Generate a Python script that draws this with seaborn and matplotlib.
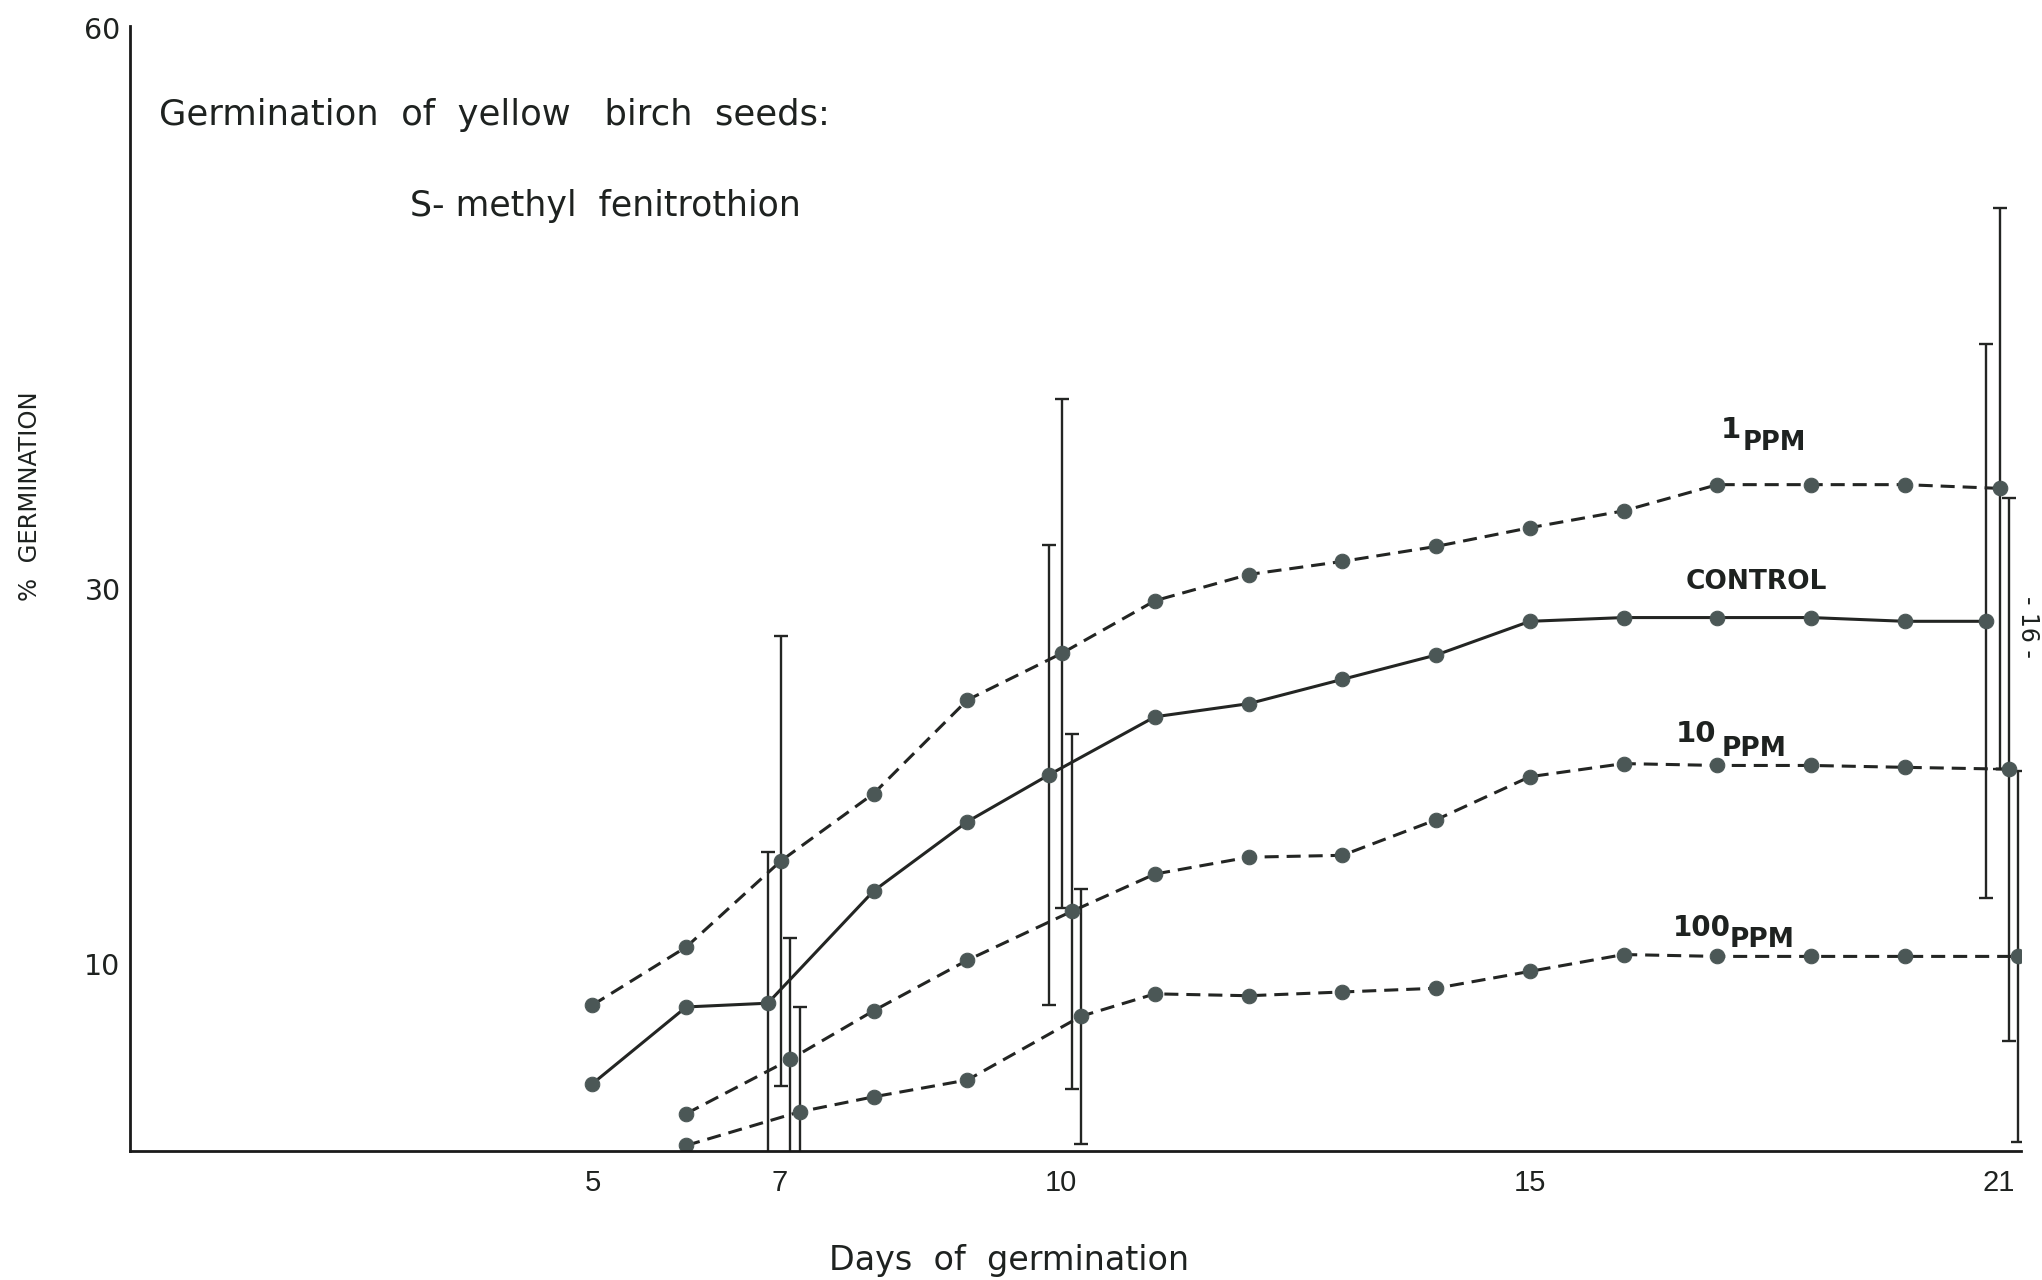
import numpy as np
import pandas as pd
import matplotlib
matplotlib.use("Agg")
import matplotlib.pyplot as plt
import seaborn as sns

# ---------------- data ----------------
days = [5, 6, 7, 8, 9, 10, 11, 12, 13, 14, 15, 16, 17, 18, 19, 20]
days_late = [6, 7, 8, 9, 10, 11, 12, 13, 14, 15, 16, 17, 18, 19, 20]

ppm1 = [7.8, 10.9, 15.5, 19.1, 24.1, 26.6, 29.4, 30.8, 31.5, 32.3, 33.3, 34.2, 35.6, 35.6, 35.6, 35.4]
control = [3.6, 7.7, 7.9, 13.9, 17.6, 20.1, 23.2, 23.9, 25.2, 26.5, 28.3, 28.5, 28.5, 28.5, 28.3, 28.3]
ppm10 = [2.0, 4.9, 7.5, 10.2, 12.8, 14.8, 15.7, 15.8, 17.7, 20.0, 20.7, 20.6, 20.6, 20.5, 20.4]
ppm100 = [0.3, 2.1, 2.9, 3.8, 7.2, 8.4, 8.3, 8.5, 8.7, 9.6, 10.5, 10.4, 10.4, 10.4, 10.4]

err_days = [7, 10, 20]
control_err = [8.1, 12.3, 14.8]
ppm1_err = [12.0, 13.6, 15.0]
ppm10_err = [6.5, 9.5, 14.5]
ppm100_err = [5.6, 6.8, 9.9]

x_ticks = [5, 7, 10, 15, 20]
x_tick_labels = ["5", "7", "10", "15", "21"]
y_ticks = [10, 30, 60]
y_tick_labels = ["10", "30", "60"]

series_names = ["CONTROL", "1 PPM", "10 PPM", "100 PPM"]

# ---------------- styles ----------------
LINE = "#232523"
MARK = "#4b5756"
TXT = "#1e2220"
dodge = {"CONTROL": -0.13, "1 PPM": 0.01, "10 PPM": 0.11, "100 PPM": 0.21}
DASH = (0, (4.6, 2.6))
lstyle = {"CONTROL": "-", "1 PPM": DASH, "10 PPM": DASH, "100 PPM": DASH}

rows = []
for name, xs, ys in [("CONTROL", days, control), ("1 PPM", days, ppm1),
                     ("10 PPM", days_late, ppm10), ("100 PPM", days_late, ppm100)]:
    for d, v in zip(xs, ys):
        rows.append({"series": name, "day": d, "value": v})
df = pd.DataFrame(rows)
df["xpos"] = df["day"] + np.where(df["day"].isin(err_days), df["series"].map(dodge), 0.0)

err_map = {"CONTROL": control_err, "1 PPM": ppm1_err, "10 PPM": ppm10_err, "100 PPM": ppm100_err}

sns.set_theme(style="white")
plt.rcParams["font.family"] = ["DejaVu Sans"]

fig = plt.figure(figsize=(20.42, 12.8), dpi=100)
ax = fig.add_axes([0.0638, 0.1007, 0.926, 0.879])

for name in series_names:
    sub = df[df["series"] == name].sort_values("day")
    sns.lineplot(data=sub, x="xpos", y="value", ax=ax, color=LINE, linewidth=2.2,
                 linestyle=lstyle[name], marker="o", markersize=10.5,
                 markerfacecolor=MARK, markeredgecolor=MARK, legend=False,
                 errorbar=None, sort=True)
    eb = sub[sub["day"].isin(err_days)].sort_values("day")
    ax.errorbar(eb["xpos"], eb["value"], yerr=err_map[name], fmt="none",
                ecolor=LINE, elinewidth=1.7, capsize=5, capthick=1.7, zorder=1)

ax.set_xlim(0.07, 20.24)
ax.set_ylim(0, 60.1)
ax.set_xticks(x_ticks)
ax.set_xticklabels(x_tick_labels, fontsize=21,
                   family=["Liberation Sans Narrow", "Liberation Sans"])
ax.set_yticks(y_ticks)
ax.set_yticklabels(y_tick_labels, fontsize=20.5)
ax.tick_params(axis="x", length=0, pad=13, colors=TXT)
ax.tick_params(axis="y", length=0, pad=7, colors=TXT)
ax.set_xlabel("")
ax.set_ylabel("")
for s in ["top", "right"]:
    ax.spines[s].set_visible(False)
for s in ["left", "bottom"]:
    ax.spines[s].set_color("#1a1a1a")
    ax.spines[s].set_linewidth(2.0)
ax.grid(False)

fig.text(0.0778, 0.9105, "Germination  of  yellow   birch  seeds:", fontsize=25.5, color=TXT, va="center", ha="left")
fig.text(0.2009, 0.8393, "S- methyl  fenitrothion", fontsize=25, color=TXT, va="center", ha="left")
fig.text(0.494, 0.0153, "Days  of  germination", fontsize=24, color=TXT, va="center", ha="center")
fig.text(0.0145, 0.6125, "%  GERMINATION", fontsize=17.5, color=TXT, va="center", ha="center", rotation=90)
fig.text(0.993, 0.510, "- 16 -", fontsize=17, color=TXT, va="center", ha="center", rotation=270)

# series labels
lab_kw = dict(color=TXT, va="center", ha="left", transform=ax.transData, fontweight="bold")
ax.text(17.04, 38.5, "1", fontsize=21, **lab_kw)
ax.text(17.27, 37.8, "PPM", fontsize=18.5, **lab_kw)
ax.text(16.66, 30.4, "CONTROL", fontsize=19, **lab_kw)
ax.text(16.56, 22.3, "10", fontsize=21, **lab_kw)
ax.text(17.05, 21.5, "PPM", fontsize=19, **lab_kw)
ax.text(16.53, 11.9, "100", fontsize=20, **lab_kw)
ax.text(17.13, 11.3, "PPM", fontsize=19, **lab_kw)

fig.savefig("out.png", dpi=100, facecolor="white")
